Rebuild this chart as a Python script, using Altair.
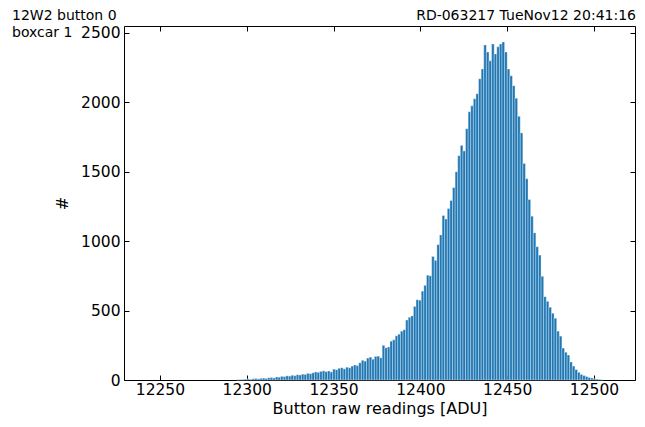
import altair as alt
import pandas as pd

# Histogram counts, one per 1.5-ADU bin starting at bin_start
counts = [2, 3, 4, 6, 8, 5, 9, 11, 8, 12,
          14, 11, 16, 18, 15, 22, 20, 26, 24, 30,
          28, 34, 31, 38, 36, 42, 40, 48, 45, 52,
          58, 55, 62, 66, 60, 65, 58, 78, 74, 84,
          88, 80, 92, 88, 100, 108, 104, 124, 142, 136,
          158, 165, 150, 170, 172, 160, 250, 232, 238, 280,
          290, 318, 330, 352, 362, 432, 452, 462, 530, 578,
          575, 640, 682, 755, 750, 890, 862, 975, 1045, 1185,
          1160, 1235, 1293, 1386, 1500, 1616, 1690, 1650, 1810, 1932,
          1975, 2026, 2062, 2170, 2241, 2414, 2363, 2299, 2421, 2349,
          2400, 2421, 2435, 2363, 2241, 2191, 2120, 2030, 1900, 1780,
          1560, 1450, 1300, 1180, 1060, 960, 900, 747, 600, 567,
          524, 481, 445, 352, 316, 230, 200, 180, 130, 100,
          75, 55, 40, 32, 25, 18, 14, 10, 6, 4,
          2]
bin_start = 12294.0
bin_width = 1.5

x_ticks = [12250, 12300, 12350, 12400, 12450, 12500]
y_ticks = [0, 500, 1000, 1500, 2000, 2500]
header_left = ["12W2 button 0", "boxcar 1"]
header_right = ["RD-063217 TueNov12 20:41:16"]
x_title = "Button raw readings [ADU]"
y_title = "#"

lo = [bin_start + i * bin_width for i in range(len(counts))]
df = pd.DataFrame({"lo": lo, "hi": [v + bin_width for v in lo], "count": counts})

font = "DejaVu Sans"
W, H = 511, 354

xs = alt.Scale(domain=[12229.3, 12523.6], nice=False, zero=False)
ys = alt.Scale(domain=[0, 2550], nice=False)

common = dict(offset=-5, tickSize=5, domain=False, grid=False, tickColor="black",
              labelColor="black", titleColor="black", labelFont=font, titleFont=font,
              labelFontSize=15.5, titleFontSize=16, titleFontWeight="normal")

bottom_axis = alt.Axis(orient="bottom", values=x_ticks, format="d", labelPadding=2,
                       title=x_title, titlePadding=3, **common)
left_axis = alt.Axis(orient="left", values=y_ticks, format="d", labelPadding=4,
                     title=y_title, titlePadding=10, **common)
top_axis = alt.Axis(orient="top", values=x_ticks, labels=False, title=None, **common)
right_axis = alt.Axis(orient="right", values=y_ticks, labels=False, title=None, **common)

bars = alt.Chart(df).mark_bar(color="#1f77b4", stroke="white", strokeWidth=0.35).encode(
    x=alt.X("lo:Q", scale=xs, axis=bottom_axis),
    x2="hi:Q",
    y=alt.Y("count:Q", scale=ys, axis=left_axis),
    y2=alt.datum(0),
)

frame_axes = alt.Chart(df).mark_point(opacity=0).encode(
    x=alt.X("lo:Q", scale=xs, axis=top_axis),
    y=alt.Y("count:Q", scale=ys, axis=right_axis),
)

t1 = alt.Chart(pd.DataFrame({"t": [header_left[0]]})).mark_text(
    align="left", baseline="middle", font=font, fontSize=14, color="black"
).encode(text="t:N", x=alt.value(-112), y=alt.value(-10))

t2 = alt.Chart(pd.DataFrame({"t": [header_left[1]]})).mark_text(
    align="left", baseline="middle", font=font, fontSize=14, color="black"
).encode(text="t:N", x=alt.value(-112), y=alt.value(7))

t3 = alt.Chart(pd.DataFrame({"t": header_right})).mark_text(
    align="right", baseline="middle", font=font, fontSize=14, color="black"
).encode(text="t:N", x=alt.value(512), y=alt.value(-10))

chart = alt.layer(bars, frame_axes, t1, t2, t3).properties(
    width=W, height=H,
    autosize=alt.AutoSizeParams(type="none"),
    padding={"left": 116, "top": 18, "right": 2, "bottom": 39},
).configure_view(stroke="black", strokeWidth=1)

chart.save("out.html", embed_options={"renderer": "svg", "actions": False})
